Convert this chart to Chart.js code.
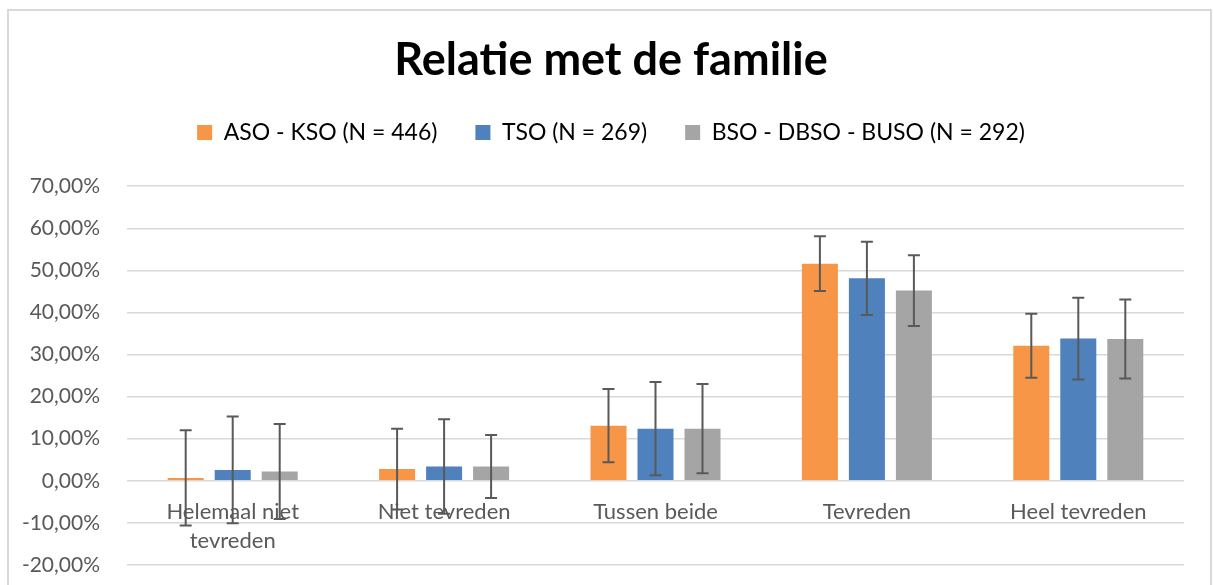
<!DOCTYPE html>
<html>
<head>
<meta charset="utf-8">
<script src="https://cdn.jsdelivr.net/npm/chart.js@4"></script>
<style>
  html, body { margin: 0; padding: 0; background: #fff; }
  #wrap { position: relative; width: 1213px; height: 585px; overflow: hidden; }
  #frame { position: absolute; left: 7px; top: 9px; width: 1205px; height: 600px; border: 2px solid #d9d9d9; box-sizing: border-box; }
  #box { position: absolute; left: 0; top: 0; width: 1213px; height: 585px; }
</style>
</head>
<body>
<div id="wrap">
  <div id="frame"></div>
  <div id="box"><canvas id="familyChart"></canvas></div>
</div>
<script>
// Categories and values (percent)
const categories = [['Helemaal niet', 'tevreden'], 'Niet tevreden', 'Tussen beide', 'Tevreden', 'Heel tevreden'];
const seriesNames = ['ASO - KSO (N = 446)', 'TSO (N = 269)', 'BSO - DBSO - BUSO (N = 292)'];

const asoValues = [0.7, 2.8, 13.1, 51.6, 32.1];
const asoErrors = [11.3, 9.6, 8.7, 6.5, 7.6];
const tsoValues = [2.6, 3.4, 12.4, 48.1, 33.8];
const tsoErrors = [12.7, 11.2, 11.1, 8.7, 9.7];
const bsoValues = [2.2, 3.4, 12.4, 45.2, 33.7];
const bsoErrors = [11.3, 7.5, 10.6, 8.4, 9.4];

const yTicks = { min: -20, max: 70, step: 10 };

const FONT = 'Lato, "Liberation Sans", sans-serif';

// Draws symmetric error bars on top of each bar
const errorBarPlugin = {
    id: 'errorBars',
    afterDatasetsDraw(chart) {
        const ctx = chart.ctx;
        const yScale = chart.scales.y;
        ctx.save();
        ctx.strokeStyle = '#595959';
        ctx.lineWidth = 2;
        chart.data.datasets.forEach((ds, i) => {
            const meta = chart.getDatasetMeta(i);
            meta.data.forEach((bar, j) => {
                const v = ds.data[j];
                const e = ds.errors[j];
                const top = yScale.getPixelForValue(v + e);
                const bottom = yScale.getPixelForValue(v - e);
                const x = bar.x;
                ctx.beginPath();
                ctx.moveTo(x, top);
                ctx.lineTo(x, bottom);
                ctx.moveTo(x - 6, top);
                ctx.lineTo(x + 6, top);
                ctx.moveTo(x - 6, bottom);
                ctx.lineTo(x + 6, bottom);
                ctx.stroke();
            });
        });
        ctx.restore();
    }
};

const ctx = document.getElementById('familyChart').getContext('2d');
new Chart(ctx, {
    type: 'bar',
    data: {
        labels: categories,
        datasets: [
            { label: seriesNames[0], data: asoValues, errors: asoErrors, backgroundColor: '#f79646' },
            { label: seriesNames[1], data: tsoValues, errors: tsoErrors, backgroundColor: '#4f81bd' },
            { label: seriesNames[2], data: bsoValues, errors: bsoErrors, backgroundColor: '#a5a5a5' }
        ]
    },
    options: {
        responsive: true,
        maintainAspectRatio: false,
        animation: false,
        // negative right padding + empty right axis: centres title/legend a bit right, like the original
        layout: { padding: { left: 0, right: -9, top: 0, bottom: 20 } },
        datasets: {
            bar: { categoryPercentage: 0.667, barPercentage: 0.766 }
        },
        scales: {
            x: {
                // category labels sit just under the 0% line, like Excel
                position: { y: 0 },
                afterFit: function(scale) { scale.height = 0; },
                grid: { display: false },
                border: { display: false },
                ticks: {
                    color: '#595959',
                    font: { family: FONT, size: 22, lineHeight: 1.3 },
                    padding: 9,
                    maxRotation: 0,
                    autoSkip: false
                }
            },
            y: {
                min: yTicks.min,
                max: yTicks.max,
                afterFit: function(scale) {
                    scale.width = 127;
                    scale.paddingTop = 0;
                    scale.paddingBottom = 0;
                },
                grid: { color: '#d9d9d9', lineWidth: 1.5, drawTicks: false },
                border: { display: false },
                ticks: {
                    stepSize: yTicks.step,
                    color: '#595959',
                    padding: 27,
                    font: { family: FONT, size: 21 },
                    callback: function(value) {
                        return value.toFixed(2).replace('.', ',') + '%';
                    }
                }
            },
            yRight: {
                type: 'linear',
                position: 'right',
                afterFit: function(scale) {
                    scale.width = 38;
                    scale.paddingTop = 0;
                    scale.paddingBottom = 0;
                },
                grid: { display: false },
                border: { display: false },
                ticks: { display: false }
            }
        },
        plugins: {
            title: {
                display: true,
                text: 'Relatie met de familie',
                color: '#000',
                font: { family: FONT, size: 45, weight: 'bold', lineHeight: 1.0 },
                padding: { top: 38, bottom: 0 }
            },
            legend: {
                position: 'top',
                labels: {
                    color: '#000',
                    boxWidth: 15,
                    boxHeight: 15,
                    padding: 38,
                    font: { family: FONT, size: 23 }
                }
            },
            // empty spacer between legend and plot area
            subtitle: {
                display: true,
                text: '',
                weight: 500,
                font: { size: 1 },
                padding: { top: 0, bottom: 31 }
            },
            tooltip: { enabled: false }
        }
    },
    plugins: [errorBarPlugin]
});
</script>
</body>
</html>
